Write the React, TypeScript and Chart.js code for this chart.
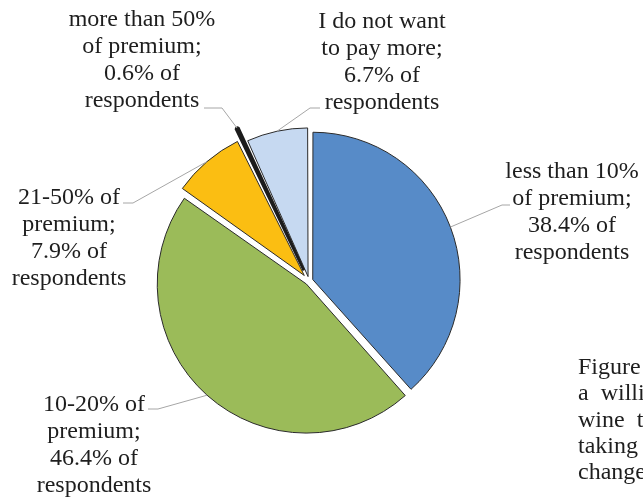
import React, { useEffect, useRef } from 'react';
import { Chart, registerables } from 'chart.js';

Chart.register(...registerables);

// ---- data ----
const categories = [
  'less than 10% of premium',
  '10-20% of premium',
  '21-50% of premium',
  'more than 50% of premium',
  'I do not want to pay more',
];
const shares = [38.4, 46.4, 7.9, 0.6, 6.7];
const categoryLines = [
  ['less than 10%', 'of premium;'],
  ['10-20% of', 'premium;'],
  ['21-50% of', 'premium;'],
  ['more than 50%', 'of premium;'],
  ['I do not want', 'to pay more;'],
];
const captionLines = ['Figure', 'a  willi', 'wine  t', 'taking', 'change'];

// ---- style / layout ----
const sliceColors = ['#578BC8', '#9BBB59', '#FBBE12', '#1C1C1C', '#C6D9F1'];
const sliceBorders = ['#2A2A2A', '#2A2A2A', '#2A2A2A', '#1C1C1C', '#2A2A2A'];
const sliceBorderWidths = [1, 1, 1, 3, 1];
const sliceOffsets = [16, 16, 29, 47, 18];
const labelLayout = [
  { x: 572, y: 172, elbow: [502, 205], end: [510, 205] },
  { x: 94, y: 405, elbow: [158, 409], end: [148, 409] },
  { x: 69, y: 198, elbow: [133, 203], end: [123, 203] },
  { x: 142, y: 20, elbow: [222, 108], end: [204, 108] },
  { x: 382, y: 22, elbow: [310, 108], end: [320, 108] },
];
const LINE_GAP = 27;
const FONT = '"Liberation Serif"';

const labelPlugin = {
  id: 'outsideLabels',
  afterDraw(chart: any) {
    const ctx = chart.ctx;
    const meta = chart.getDatasetMeta(0);
    ctx.save();
    meta.data.forEach((el: any, i: number) => {
      const p = el.getProps(['x', 'y', 'startAngle', 'endAngle', 'outerRadius', 'circumference'], true);
      const t = (el.options.offset || 0) / 4;
      const fix = 1 - Math.sin(Math.min(Math.PI, p.circumference || 0));
      const r = p.outerRadius + t * fix + t;
      const mid = (p.startAngle + p.endAngle) / 2;
      const ax = p.x + Math.cos(mid) * r;
      const ay = p.y + Math.sin(mid) * r;
      const L = labelLayout[i];
      ctx.strokeStyle = '#A6A6A6';
      ctx.lineWidth = 1;
      ctx.beginPath();
      ctx.moveTo(ax, ay);
      ctx.lineTo(L.elbow[0], L.elbow[1]);
      ctx.lineTo(L.end[0], L.end[1]);
      ctx.stroke();

      const lines = [...categoryLines[i], `${shares[i].toFixed(1)}% of`, 'respondents'];
      ctx.fillStyle = '#1E1E1E';
      ctx.font = `24px ${FONT}`;
      ctx.textAlign = 'center';
      ctx.textBaseline = 'middle';
      lines.forEach((s, k) => ctx.fillText(s, L.x, L.y + k * LINE_GAP));
    });
    ctx.font = `24px ${FONT}`;
    ctx.textAlign = 'left';
    ctx.textBaseline = 'middle';
    ctx.fillStyle = '#1E1E1E';
    captionLines.forEach((s, k) => ctx.fillText(s, 578, 368 + k * 26.2));
    ctx.restore();
  },
};

export default function App() {
  const ref = useRef<HTMLCanvasElement | null>(null);
  useEffect(() => {
    let chart: Chart | null = null;
    let cancelled = false;
    const build = () => {
      if (cancelled || !ref.current) return;
      chart = new Chart(ref.current, {
        type: 'pie',
        data: {
          labels: categories,
          datasets: [
            {
              data: shares,
              backgroundColor: sliceColors,
              borderColor: sliceBorders,
              borderWidth: sliceBorderWidths,
              offset: sliceOffsets,
              radius: 146,
            } as any,
          ],
        },
        options: {
          animation: false,
          responsive: false,
          devicePixelRatio: 1,
          layout: { padding: { left: 0, right: 25, top: 64, bottom: 0 } },
          plugins: {
            legend: { display: false },
            tooltip: { enabled: false },
            title: { display: false },
          },
        },
        plugins: [labelPlugin],
      });
    };
    const fonts = (document as any).fonts;
    if (fonts && fonts.load) {
      Promise.all([fonts.load(`24px ${FONT}`)]).then(build, build);
    } else {
      build();
    }
    return () => {
      cancelled = true;
      if (chart) chart.destroy();
    };
  }, []);
  return (
    <div style={{ position: 'fixed', left: 0, top: 0, width: 643, height: 498, background: '#fff' }}>
      <canvas ref={ref} width={643} height={498} style={{ display: 'block' }} />
    </div>
  );
}
